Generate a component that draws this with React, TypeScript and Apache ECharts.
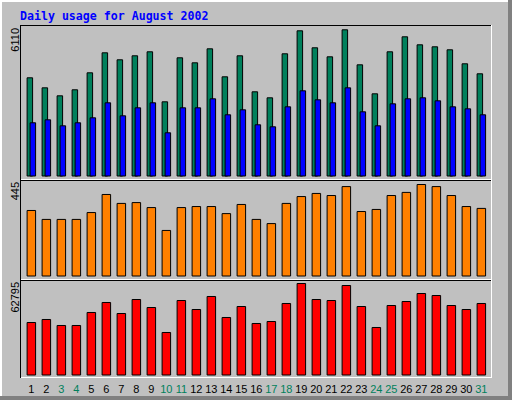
import React, { useEffect, useRef } from "react";
import * as echarts from "echarts";

const days = ["1","2","3","4","5","6","7","8","9","10","11","12","13","14","15","16","17","18","19","20","21","22","23","24","25","26","27","28","29","30","31"];
const weekendDays = ["3","4","10","11","17","18","24","25","31"];
const hits = [4118,3702,3370,3620,4325,5155,4865,5031,5197,3121,4948,4740,5321,4159,5031,3536,3287,5114,6068,5363,4989,6110,4657,3453,5197,5819,5487,5404,5280,4699,4284];
const files = [2250,2374,2125,2250,2457,3080,2540,2872,3080,1835,2872,2872,3246,2582,2789,2167,2084,2914,3578,3204,3080,3702,2706,2125,3038,3246,3288,3163,2914,2830,2582];
const visits = [320,277,277,277,310,397,354,358,334,224,334,339,339,305,349,277,257,354,387,402,392,435,315,325,392,407,445,435,392,339,330];
const kbytes = [36319,38356,34283,34283,43108,49897,42429,51933,46502,29531,51254,45144,53970,39714,47181,35641,36998,49218,62795,51933,51254,61437,47181,32925,47860,50575,56006,54648,47860,45144,49218];
const panelMaxLabels = ["6110", "445", "62795"];
const title = "Daily usage for August 2002";

const GREEN = "#00805C";
const BLUE = "#0000FF";
const ORANGE = "#FF8000";
const RED = "#FF0000";
const BG = "#C0C0C0";

export default function App() {
  const ref = useRef<HTMLDivElement>(null);
  useEffect(() => {
    if (!ref.current) return;
    const chart = echarts.init(ref.current, null, { renderer: "svg" });
    const grids = [
      { left: 23.85, width: 465, top: 29.3, height: 147.2 },
      { left: 23.85, width: 465, top: 184, height: 92.5 },
      { left: 23.85, width: 465, top: 283, height: 92.5 },
    ];
    const labelFont = '11px "Liberation Sans"';
    const line = (x1: number, y1: number, x2: number, y2: number, color: string, w = 1) => ({
      type: "line",
      shape: { x1, y1, x2, y2 },
      style: { stroke: color, lineWidth: w },
      silent: true,
    });
    const labelTops = [28, 182, 282];
    const option: any = {
      animation: false,
      backgroundColor: BG,
      grid: grids,
      xAxis: grids.map((_, i) => ({
        type: "category",
        gridIndex: i,
        data: days,
        boundaryGap: true,
        axisLine: { show: false },
        axisTick: { show: false },
        splitLine: { show: false },
        axisLabel: {
          show: i === 2,
          interval: 0,
          margin: 8,
          fontSize: 11,
          fontFamily: "Liberation Sans",
          color: (v: string) => (weekendDays.includes(v) ? GREEN : "#000"),
        },
      })),
      yAxis: grids.map((_, i) => ({
        type: "value",
        gridIndex: i,
        min: 0,
        max: Number(panelMaxLabels[i]),
        show: false,
        splitLine: { show: false },
      })),
      series: [
        {
          type: "bar", name: "Hits", xAxisIndex: 0, yAxisIndex: 0, data: hits,
          barWidth: 6.5, barGap: "-54%",
          itemStyle: { color: GREEN, borderColor: "#000", borderWidth: 1 },
        },
        {
          type: "bar", name: "Files", xAxisIndex: 0, yAxisIndex: 0, data: files,
          barWidth: 6.5, barGap: "-54%",
          itemStyle: { color: BLUE, borderColor: "#000", borderWidth: 1 },
        },
        {
          type: "bar", name: "Visits", xAxisIndex: 1, yAxisIndex: 1, data: visits,
          barWidth: 9.5,
          itemStyle: { color: ORANGE, borderColor: "#000", borderWidth: 1 },
        },
        {
          type: "bar", name: "KBytes", xAxisIndex: 2, yAxisIndex: 2, data: kbytes,
          barWidth: 9.5,
          itemStyle: { color: RED, borderColor: "#000", borderWidth: 1 },
        },
      ],
      graphic: [
        // outer bevel
        line(0, 1, 512, 1, "#FFFFFF", 2),
        line(1, 0, 1, 400, "#FFFFFF", 2),
        { type: "rect", shape: { x: 508, y: 0, width: 4, height: 400 }, style: { fill: "#808080" }, silent: true },
        { type: "rect", shape: { x: 0, y: 396, width: 512, height: 4 }, style: { fill: "#808080" }, silent: true },
        // panel frames
        line(20, 25.5, 491, 25.5, "#000"),
        line(20.5, 25, 20.5, 378, "#000"),
        line(491.5, 25, 491.5, 378, "#FFFFFF"),
        line(21, 179.5, 491, 179.5, "#FFFFFF"),
        line(20, 180.5, 491, 180.5, "#000"),
        line(21, 279.5, 491, 279.5, "#FFFFFF"),
        line(20, 280.5, 491, 280.5, "#000"),
        line(21, 377.5, 492, 377.5, "#FFFFFF"),
        // title
        {
          type: "text", x: 20, y: 15.5, silent: true,
          style: {
            text: title, fill: BLUE,
            font: 'bold 11.6px "DejaVu Sans Mono"',
            align: "left", verticalAlign: "middle",
          },
        },
        // rotated max labels
        ...panelMaxLabels.map((t, i) => ({
          type: "text", x: 15, y: labelTops[i], rotation: Math.PI / 2, silent: true,
          style: { text: t, fill: "#000", font: labelFont, align: "right", verticalAlign: "middle" },
        })),
      ],
    };
    chart.setOption(option);
    return () => chart.dispose();
  }, []);
  return (
    <div
      ref={ref}
      style={{ position: "absolute", left: 0, top: 0, width: 512, height: 400 }}
    />
  );
}
